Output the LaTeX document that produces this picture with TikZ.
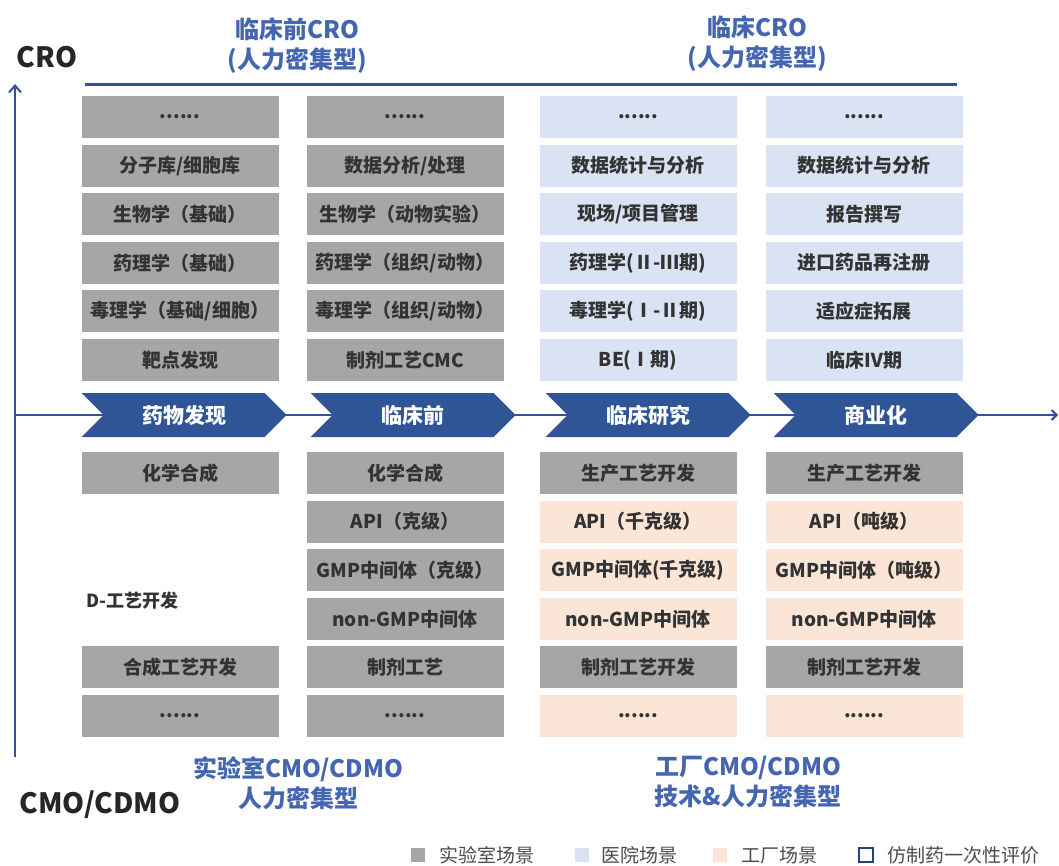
\documentclass[tikz,border=0pt]{standalone}
\usepackage{fontspec}
\setmainfont{Noto Sans CJK SC}
\usetikzlibrary{calc,shapes.symbols,arrows.meta}

\definecolor{labgray}{HTML}{A6A6A6}
\definecolor{hospblue}{HTML}{DAE3F3}
\definecolor{factpeach}{HTML}{FBE5D6}
\definecolor{chevblue}{HTML}{2F5597}
\definecolor{titleblue}{HTML}{4466B0}
\definecolor{txtgray}{HTML}{333333}

\newcommand{\moredots}{......}

\tikzset{
    cell/.style={minimum width=197pt, minimum height=42pt, inner sep=0pt,
        font=\fontsize{19}{19}\selectfont\bfseries, text=txtgray},
    lab/.style={cell, fill=labgray},
    hosp/.style={cell, fill=hospblue},
    fact/.style={cell, fill=factpeach},
    chev/.style={signal, signal to=east, signal from=west, fill=chevblue,
        minimum width=205pt, minimum height=44pt, inner sep=0pt,
        text=white, font=\fontsize{21}{21}\selectfont\bfseries},
    ttl/.style={text=titleblue, align=center,
        font=\fontsize{24}{30}\selectfont\bfseries},
    axislbl/.style={text=black!85, font=\fontsize{28}{28}\selectfont\bfseries},
    legbox/.style={minimum size=14pt, inner sep=0pt},
    legtxt/.style={anchor=west, text=black!70, font=\fontsize{19}{19}\selectfont},
}

\begin{document}
\begin{tikzpicture}[x=1pt,y=-1pt]
    \useasboundingbox (0,0) rectangle (1059,866);

    % axes
    \coordinate (O) at (15,415);
    \coordinate (up) at (15,84);
    \coordinate (dn) at (15,757);
    \coordinate (rt) at (1058,415);
    \draw [chevblue, line width=2pt, -{Straight Barb[length=7pt,width=12pt]}] (dn) -- (up);
    \draw [chevblue, line width=2pt, -{Straight Barb[length=5pt,width=10pt]}] (O) -- (rt);

    \node (cro) at (47,57) [axislbl] {CRO};
    \node (cmo) at (100,805) [axislbl] {CMO/CDMO};

    % titles
    \node (t1) at (297,46) [ttl] {临床前CRO\\(人力密集型)};
    \node (t2) at (757,44) [ttl] {临床CRO\\(人力密集型)};
    \node (t3) at (298,783) [ttl] {实验室CMO/CDMO\\人力密集型};
    \node (t4) at (748,782) [ttl] {工厂CMO/CDMO\\技术\&人力密集型};

    \coordinate (la) at (85,85);
    \coordinate (lb) at (957,85);
    \draw [chevblue, line width=3pt] (la) -- (lb);

    % stages
    \node (s1) at (184,415) [chev] {药物发现};
    \node (s2) at (413,415) [chev] {临床前};
    \node (s3) at (648,415) [chev] {临床研究};
    \node (s4) at (876,415) [chev] {商业化};

    % CRO side
    \foreach \txt [count=\i from 0] in {\moredots, 分子库/细胞库, 生物学（基础）,
        药理学（基础）, 毒理学（基础/细胞）, 靶点发现}
        \node (a\i) at (180,117+48.6*\i) [lab] {\txt};
    \foreach \txt [count=\i from 0] in {\moredots, 数据分析/处理, 生物学（动物实验）,
        药理学（组织/动物）, 毒理学（组织/动物）, 制剂工艺CMC}
        \node (b\i) at (405,117+48.6*\i) [lab] {\txt};
    \foreach \txt [count=\i from 0] in {\moredots, 数据统计与分析, 现场/项目管理,
        药理学(Ⅱ-Ⅲ期), 毒理学(Ⅰ-Ⅱ期), BE(Ⅰ期)}
        \node (c\i) at (638,117+48.6*\i) [hosp] {\txt};
    \foreach \txt [count=\i from 0] in {\moredots, 数据统计与分析, 报告撰写,
        进口药品再注册, 适应症拓展, 临床Ⅳ期}
        \node (d\i) at (864,117+48.6*\i) [hosp] {\txt};

    % CMO side
    \node (e0) at (180,473) [lab] {化学合成};
    \node (e2) at (83,601) [anchor=west, text=txtgray,
        font=\fontsize{18}{18}\selectfont\bfseries] {D-工艺开发};
    \node (e4) at (180,667.4) [lab] {合成工艺开发};
    \node (e5) at (180,716) [lab] {\moredots};
    \foreach \txt [count=\i from 0] in {化学合成, API（克级）, GMP中间体（克级）,
        non-GMP中间体, 制剂工艺, \moredots}
        \node (f\i) at (405,473+48.6*\i) [lab] {\txt};
    \foreach \sty/\txt [count=\i from 0] in {lab/生产工艺开发, fact/API（千克级）,
        fact/GMP中间体(千克级), fact/non-GMP中间体, lab/制剂工艺开发, fact/\moredots}
        \node (g\i) at (638,473+48.6*\i) [\sty] {\txt};
    \foreach \sty/\txt [count=\i from 0] in {lab/生产工艺开发, fact/API（吨级）,
        fact/GMP中间体（吨级）, fact/non-GMP中间体, lab/制剂工艺开发, fact/\moredots}
        \node (h\i) at (864,473+48.6*\i) [\sty] {\txt};

    % legend
    \node (k1) at (418,855) [legbox, fill=labgray] {};
    \node (k1t) at (436,855) [legtxt] {实验室场景};
    \node (k2) at (582,855) [legbox, fill=hospblue] {};
    \node (k2t) at (598,855) [legtxt] {医院场景};
    \node (k3) at (720,855) [legbox, fill=factpeach] {};
    \node (k3t) at (738,855) [legtxt] {工厂场景};
    \node (k4) at (866,855) [legbox, draw=chevblue!80!black, line width=2pt] {};
    \node (k4t) at (884,855) [legtxt] {仿制药一次性评价};
\end{tikzpicture}
\end{document}
